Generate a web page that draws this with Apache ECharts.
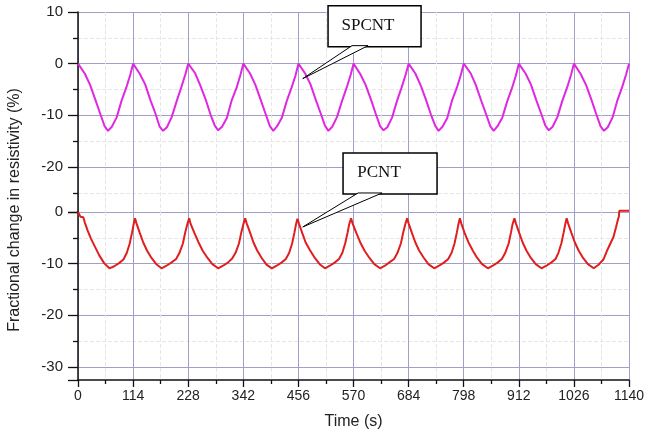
<!DOCTYPE html>
<html>
<head>
<meta charset="utf-8">
<script src="https://cdn.jsdelivr.net/npm/echarts@6/dist/echarts.min.js"></script>
<style>
html,body{margin:0;padding:0;background:#fff;}
#chart{width:649px;height:433px;}
</style>
</head>
<body>
<div id="chart"></div>
<script>
// ---- data ----
var xTickValues = [0,114,228,342,456,570,684,798,912,1026,1140];
var topYTicks = [10,0,-10,-20];
var bottomYTicks = [0,-10,-20,-30];

var spcntTime = [
0,4,14,25,36,46,55,62,70,80,90,100,108,
114,118,128,139,150,160,169,176,184,194,204,214,222,
228,232,242,253,264,274,283,290,298,308,318,328,336,
342,346,356,367,378,388,397,404,412,422,432,442,450,
456,460,470,481,492,502,511,518,526,536,546,556,564,
570,574,584,595,606,616,625,632,640,650,660,670,678,
684,688,698,709,720,730,739,746,754,764,774,784,792,
798,802,812,823,834,844,853,860,868,878,888,898,906,
912,916,926,937,948,958,967,974,982,992,1002,1012,1020,
1026,1030,1040,1051,1062,1072,1081,1088,1096,1106,1116,1126,1134,
1140];
var spcntValue = [
0,-0.2,-1.9,-4.1,-7.0,-9.7,-12.1,-13.0,-12.2,-10.4,-7.2,-4.6,-2.2,
0,-0.3,-2.0,-4.0,-7.1,-9.6,-12.2,-13.0,-12.3,-10.3,-7.3,-4.5,-2.1,
0,-0.2,-1.8,-4.2,-6.9,-9.8,-12.0,-12.9,-12.2,-10.5,-7.1,-4.7,-2.2,
0,-0.2,-1.9,-4.1,-7.0,-9.7,-12.1,-13.0,-12.1,-10.4,-7.2,-4.6,-2.3,
0,-0.3,-1.9,-4.0,-7.0,-9.6,-12.0,-13.0,-12.2,-10.3,-7.3,-4.6,-2.2,
0,-0.2,-2.0,-4.1,-6.9,-9.7,-12.1,-12.9,-12.3,-10.4,-7.2,-4.5,-2.1,
0,-0.2,-1.9,-4.2,-7.0,-9.8,-12.0,-13.0,-12.2,-10.5,-7.1,-4.6,-2.2,
0,-0.3,-1.8,-4.1,-7.1,-9.7,-12.1,-13.0,-12.1,-10.4,-7.3,-4.7,-2.3,
0,-0.2,-1.9,-4.0,-7.0,-9.6,-12.0,-12.9,-12.2,-10.3,-7.2,-4.6,-2.2,
0,-0.2,-2.0,-4.1,-6.9,-9.7,-12.1,-13.0,-12.3,-10.4,-7.1,-4.5,-2.1,
0];

var pcntTime = [
0,3,5,11,14,20,27,35,44,54,65,
75,85,94,101,107,112,115,118,
121,128,135,143,152,162,173,
183,193,203,210,217,222,226,230,
233,241,249,258,268,278,290,
300,310,319,326,333,338,342,346,
349,356,363,371,380,390,401,
411,421,430,437,443,448,451,454,
457,464,471,480,490,500,511,
521,531,540,547,553,558,561,565,
568,576,584,593,603,613,625,
635,645,654,661,668,673,677,681,
684,691,698,706,715,725,737,
747,757,766,773,779,784,787,790,
793,800,808,817,826,836,848,
858,868,877,884,891,896,899,903,
906,913,920,928,937,947,959,
969,979,988,994,1000,1005,1008,1011,
1014,1021,1028,1036,1045,1055,1067,
1077,1087,1094,1101,1108,1113,1117,1119,1120,1140];
var pcntValue = [
0,-0.2,-0.9,-1.0,-2.0,-3.6,-5.2,-6.7,-8.4,-9.9,-10.9,
-10.5,-9.9,-9.2,-7.9,-6.1,-3.9,-2.4,-1.2,
-2.2,-4.1,-5.9,-7.5,-8.9,-10.1,-10.9,
-10.4,-9.8,-9.1,-7.9,-6.1,-3.9,-2.4,-1.2,
-2.3,-4.1,-5.8,-7.5,-8.9,-10.1,-10.9,
-10.4,-9.8,-9.0,-7.9,-6.1,-3.9,-2.4,-1.2,
-2.2,-4.0,-5.9,-7.5,-8.9,-10.2,-10.9,
-10.4,-9.8,-9.1,-7.9,-6.1,-3.9,-2.4,-1.3,
-2.2,-4.1,-5.9,-7.4,-8.9,-10.1,-10.9,
-10.4,-9.8,-9.1,-7.9,-6.0,-3.9,-2.4,-1.2,
-2.2,-4.1,-5.9,-7.5,-8.9,-10.1,-10.9,
-10.4,-9.7,-9.1,-7.9,-6.1,-3.9,-2.4,-1.2,
-2.2,-4.1,-5.9,-7.5,-8.8,-10.1,-10.9,
-10.4,-9.8,-9.1,-7.9,-6.1,-3.9,-2.4,-1.2,
-2.2,-4.1,-5.9,-7.5,-8.9,-10.1,-10.9,
-10.4,-9.8,-9.1,-7.9,-6.1,-3.9,-2.4,-1.2,
-2.2,-4.1,-5.9,-7.5,-8.9,-10.1,-10.9,
-10.4,-9.8,-9.1,-7.9,-6.1,-3.9,-2.4,-1.2,
-2.2,-4.1,-5.9,-7.5,-8.9,-10.1,-10.9,
-10.2,-9.2,-7.6,-6.2,-4.8,-3.0,-1.5,-0.9,0.25,0.25];

var spcntData = spcntTime.map(function(t,i){return [t, spcntValue[i]];});
var pcntData = pcntTime.map(function(t,i){return [t, pcntValue[i]];});

// ---- styles ----
var FONT = '"Liberation Sans", Arial, sans-serif';
var majorGrid = '#a19ec8';
var minorGrid = '#e3e8e3';
var axisBlack = '#111';

function xAxisCfg(gridIndex, visible){
  return {
    gridIndex: gridIndex, type: 'value', min: 0, max: 1140, interval: 114,
    axisLine: {show: visible, onZero: false, lineStyle: {color: axisBlack, width: 1.5}},
    axisTick: {show: visible, inside: false, length: 7, lineStyle: {color: axisBlack, width: 1.3}},
    minorTick: {show: visible, splitNumber: 2, length: 4, lineStyle: {color: axisBlack, width: 1.3}},
    axisLabel: {show: visible, margin: 9, fontSize: 14, color: '#222', fontFamily: FONT,
      formatter: function(v){ return String(v); }},
    splitLine: {show: true, lineStyle: {color: majorGrid, width: 1}},
    minorSplitLine: {show: true, lineStyle: {color: minorGrid, width: 1, type: 'dashed'}},
    name: visible ? 'Time (s)' : '', nameLocation: 'middle', nameGap: 34,
    nameTextStyle: {fontSize: 16, color: '#222', fontFamily: FONT}
  };
}
function yAxisCfg(gridIndex, min, max){
  return {
    gridIndex: gridIndex, type: 'value', min: min, max: max,
    splitNumber: 4, minInterval: 10, maxInterval: 10,
    axisLine: {show: true, onZero: false, lineStyle: {color: axisBlack, width: 1.5}},
    axisTick: {show: true, inside: false, length: 10, lineStyle: {color: axisBlack, width: 1.3}},
    minorTick: {show: true, splitNumber: 2, length: 5, lineStyle: {color: axisBlack, width: 1.3}},
    axisLabel: {showMinLabel: false, margin: 15, fontSize: 15, color: '#222', fontFamily: FONT},
    splitLine: {show: true, showMinLine: false, lineStyle: {color: majorGrid, width: 1}},
    minorSplitLine: {show: true, lineStyle: {color: minorGrid, width: 1, type: 'dashed'}}
  };
}

var chart = echarts.init(document.getElementById('chart'), null, {renderer: 'canvas'});
chart.setOption({
  animation: false,
  backgroundColor: '#fff',
  grid: [
    {left: 78, top: 12, width: 551, height: 200},
    {left: 78, top: 212, width: 551, height: 168}
  ],
  xAxis: [xAxisCfg(0, false), xAxisCfg(1, true)],
  yAxis: [yAxisCfg(0, -28.71, 10), yAxisCfg(1, -32.52, 0)],
  series: [
    {name: 'SPCNT', type: 'line', xAxisIndex: 0, yAxisIndex: 0, data: spcntData,
     showSymbol: false, lineStyle: {color: '#e028e0', width: 2}, itemStyle: {color: '#e028e0'}, z: 5},
    {name: 'PCNT', type: 'line', xAxisIndex: 1, yAxisIndex: 1, data: pcntData, clip: false,
     showSymbol: false, lineStyle: {color: '#e01e1e', width: 2}, itemStyle: {color: '#e01e1e'}, z: 5}
  ]
});

// ---- annotations positioned from data coordinates ----
var tipS = chart.convertToPixel({gridIndex: 0}, [465, -2.9]);
var tipP = chart.convertToPixel({gridIndex: 1}, [465, -2.9]);
var SERIF = '17px "Liberation Serif", "Times New Roman", serif';

function callout(tip, box, base1, base2, label, textDx){
  return [
    {type: 'rect', z: 20,
     shape: {x: tip[0] + box[0], y: tip[1] + box[1], width: box[2], height: box[3]},
     style: {fill: '#fff', stroke: '#000', lineWidth: 1.5}},
    {type: 'polygon', z: 21,
     shape: {points: [[tip[0] + base1, tip[1] + box[1] + box[3] - 1], [tip[0], tip[1]], [tip[0] + base2, tip[1] + box[1] + box[3] - 1]]},
     style: {fill: '#fff', stroke: '#000', lineWidth: 1}},
    {type: 'text', z: 22, x: tip[0] + textDx, y: tip[1] + box[1] + box[3] / 2 - 0.5,
     style: {text: label, font: SERIF, fill: '#111', textAlign: 'center', textVerticalAlign: 'middle'}}
  ];
}

var graphics = [
  {type: 'text', x: 15, y: 210, rotation: Math.PI / 2,
   style: {text: 'Fractional change in resistivity (%)', font: '16px ' + FONT, fill: '#222',
           textAlign: 'center', textVerticalAlign: 'middle'}}
].concat(
  callout(tipS, [25.3, -73, 93, 41], 49.3, 65.3, 'SPCNT', 65.3),
  callout(tipP, [40.3, -74, 94, 41], 55.3, 79.3, 'PCNT', 76.3)
);
chart.setOption({graphic: graphics});
</script>
</body>
</html>
